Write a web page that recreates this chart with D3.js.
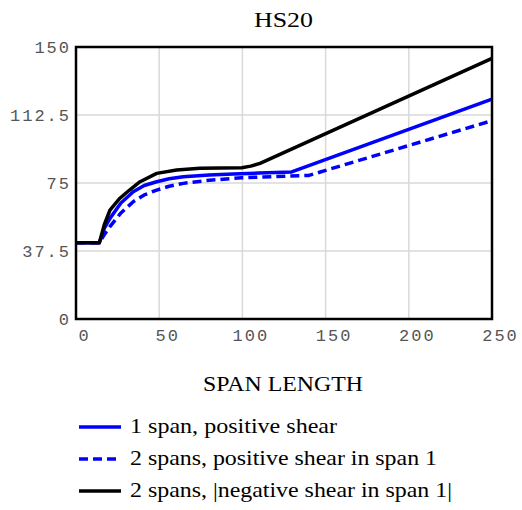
<!DOCTYPE html>
<html><head><meta charset="utf-8">
<script src="https://cdn.jsdelivr.net/npm/d3@7"></script>
<style>body{margin:0;background:#fff}svg{display:block}</style>
</head><body>
<script>
const title = "HS20";
const xLabel = "SPAN LENGTH";
const xTicks = [0, 50, 100, 150, 200, 250];
const yTicks = [0, 37.5, 75, 112.5, 150];
const yTickLabels = ["0", "37.5", "75", "112.5", "150"];

const onePosX = [0, 14, 17, 20.4, 27, 34.4, 41, 48.5, 56, 64.5, 80, 94.5, 110, 129.6, 250];
const onePosY = [42, 42, 50, 55.5, 64, 70.2, 73.6, 75.7, 77.3, 78.5, 79.4, 80, 80.5, 81.1, 121.2];

const twoPosX = [0, 14, 17, 20.4, 27, 34.4, 41, 48.5, 56, 64.5, 80, 99.6, 120, 140, 250];
const twoPosY = [42, 42, 46.5, 50.9, 58.5, 64.7, 68.4, 71.1, 73.2, 74.8, 76.5, 77.9, 78.6, 79.2, 109.4];

const twoNegX = [0, 14, 17, 20.4, 26.4, 32, 38.5, 48.5, 60.5, 74.5, 99.6, 105, 110.6, 250];
const twoNegY = [42, 42, 52, 60.1, 66.6, 71, 75.7, 80.3, 82.2, 83.1, 83.4, 84.3, 85.8, 143.7];

const seriesNames = ["1 span, positive shear", "2 spans, positive shear in span 1", "2 spans, |negative shear in span 1|"];
const seriesColors = ["#0000ff", "#0000ff", "#000000"];
const seriesDash = [null, "9,5", null];

const SERIF = "'Liberation Serif', 'Times New Roman', Times, 'DejaVu Serif', serif";
const MONO = "'Liberation Mono', 'Courier New', monospace";

const W = 522, H = 510;
const svg = d3.select("body").append("svg").attr("width", W).attr("height", H);
const x = d3.scaleLinear().domain([0, 250]).range([76, 492]);
const y = d3.scaleLinear().domain([0, 150]).range([319, 47]);

// grid
svg.append("g").selectAll("line").data(xTicks.slice(1, -1)).join("line")
  .attr("x1", d => x(d)).attr("x2", d => x(d)).attr("y1", y(150)).attr("y2", y(0))
  .attr("stroke", "#d9d9d9").attr("stroke-width", 1.5);
svg.append("g").selectAll("line").data(yTicks.slice(1, -1)).join("line")
  .attr("x1", x(0)).attr("x2", x(250)).attr("y1", d => y(d)).attr("y2", d => y(d))
  .attr("stroke", "#d9d9d9").attr("stroke-width", 1.5);

// axes (labels only)
const xAxis = d3.axisBottom(x).tickValues(xTicks).tickSize(0).tickPadding(10).tickFormat(d3.format("d"));
const gx = svg.append("g").attr("transform", `translate(8,${y(0)})`).call(xAxis);
const yAxis = d3.axisLeft(y).tickValues(yTicks).tickSize(0).tickPadding(5).tickFormat((d, i) => yTickLabels[i]);
const gy = svg.append("g").attr("transform", `translate(${x(0)},0)`).call(yAxis);
[gx, gy].forEach(g => {
  g.select(".domain").remove();
  g.selectAll("text").style("font-family", MONO).style("font-size", "17px")
    .attr("fill", "#555").attr("letter-spacing", 2);
});

// series
const line = d3.line().x(d => x(d[0])).y(d => y(d[1])).curve(d3.curveLinear);
const series = [[onePosX, onePosY], [twoPosX, twoPosY], [twoNegX, twoNegY]];
[0, 1, 2].forEach(i => {
  const pts = series[i][0].map((v, k) => [v, series[i][1][k]]);
  svg.append("path").datum(pts).attr("d", line)
    .attr("fill", "none").attr("stroke", seriesColors[i]).attr("stroke-width", 3.5)
    .attr("stroke-linejoin", "round")
    .attr("stroke-dasharray", seriesDash[i]);
});

// frame
svg.append("rect").attr("x", x(0)).attr("y", y(150)).attr("width", x(250) - x(0)).attr("height", y(0) - y(150))
  .attr("fill", "none").attr("stroke", "#000").attr("stroke-width", 2.5);

// title and x label
svg.append("text").style("font-family", SERIF).style("font-size", "22px")
  .attr("x", 254).attr("y", 27).attr("textLength", 59).attr("lengthAdjust", "spacingAndGlyphs").text(title);
svg.append("text").style("font-family", SERIF).style("font-size", "21px")
  .attr("x", 203).attr("y", 391).attr("textLength", 160).attr("lengthAdjust", "spacingAndGlyphs").text(xLabel);

// legend
const legY = [427, 459, 491];
const legW = [207, 307, 322];
seriesNames.forEach((name, i) => {
  svg.append("line").attr("x1", 79).attr("x2", 121).attr("y1", legY[i]).attr("y2", legY[i])
    .attr("stroke", seriesColors[i]).attr("stroke-width", 3.5).attr("stroke-dasharray", seriesDash[i]);
  svg.append("text").style("font-family", SERIF).style("font-size", "21px")
    .attr("x", 130).attr("y", legY[i] + 6).attr("textLength", legW[i]).attr("lengthAdjust", "spacingAndGlyphs").text(name);
});
</script>
</body></html>
